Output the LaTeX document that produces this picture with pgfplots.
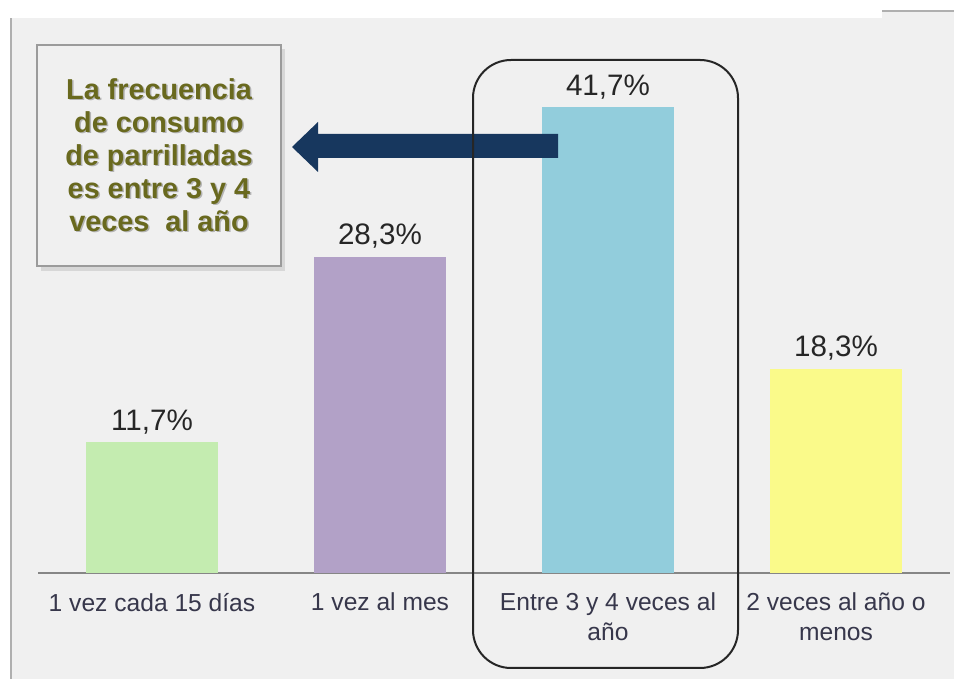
\documentclass[border=0pt]{standalone}
\usepackage{fontspec}
\setmainfont{Liberation Sans}
\usepackage{pgfplots}
\pgfplotsset{compat=1.18}

\definecolor{bg}{RGB}{240,240,240}
\definecolor{barA}{RGB}{196,236,176}
\definecolor{barB}{RGB}{178,161,199}
\definecolor{barC}{RGB}{146,205,220}
\definecolor{barD}{RGB}{250,250,138}
\definecolor{navy}{RGB}{23,55,94}
\definecolor{olivetxt}{RGB}{105,105,30}
\definecolor{axisgray}{RGB}{134,134,134}
\definecolor{boxgray}{RGB}{155,155,155}
\definecolor{lbl}{RGB}{55,55,75}

\begin{document}
\begin{tikzpicture}[x=0.5pt,y=0.5pt]
\useasboundingbox (0,0) rectangle (954,679);
\fill[white] (0,0) rectangle (954,679);
\fill[bg] (11,0) rectangle (954,661);
\fill[bg] (882,661) rectangle (954,668);
\draw[boxgray!80, line width=0.7pt] (11,0) -- (11,661);
\draw[boxgray!80, line width=0.7pt] (882,668) -- (954,668);

\begin{axis}[
    at={(19pt,53pt)}, anchor=south west,
    scale only axis,
    width=456pt, height=268pt,
    xmin=-0.5, xmax=3.5,
    ymin=0, ymax=48,
    ybar,
    bar width=66pt,
    axis x line=bottom,
    axis y line=none,
    x axis line style={-, draw=axisgray, line width=0.75pt},
    major tick length=0pt,
    xtick={0,1,2,3},
    xticklabels={
      {1 vez cada 15 días},
      {1 vez al mes},
      {Entre 3 y 4 veces al\\año},
      {2 veces al año o\\menos}
    },
    xticklabel style={align=center, text=lbl,
      font=\fontsize{12.3}{15}\selectfont, yshift=-6.5pt},
    nodes near coords={\pgfmathprintnumber[fixed,fixed zerofill,precision=1,use comma,assume math mode=true]{\pgfplotspointmeta}\%},
    nodes near coords style={anchor=base, yshift=6pt, text=black!85,
      font=\fontsize{14.8}{17}\selectfont},
    clip=false,
]
\addplot[fill=barA, draw=none, bar shift=0pt] coordinates {(0,11.7)};
\addplot[fill=barB, draw=none, bar shift=0pt] coordinates {(1,28.3)};
\addplot[fill=barC, draw=none, bar shift=0pt] coordinates {(2,41.7)};
\addplot[fill=barD, draw=none, bar shift=0pt] coordinates {(3,18.3)};
\end{axis}

% callout box
\fill[black, opacity=0.10] (41,408) rectangle (285,630);
\draw[fill=bg, draw=boxgray, line width=0.8pt] (37,413) rectangle (281,634);
\node[align=center, text=black, opacity=0.25,
  font=\bfseries\fontsize{14.4}{16.5}\selectfont] at (160.5,522.5)
  {La frecuencia\\de consumo\\de parrilladas\\es entre 3 y 4\\veces\ \ al año};
\node[align=center, text=olivetxt,
  font=\bfseries\fontsize{14.4}{16.5}\selectfont] at (159,524)
  {La frecuencia\\de consumo\\de parrilladas\\es entre 3 y 4\\veces\ \ al año};

% arrow
\fill[navy] (558,545) -- (318,545) -- (318,557) -- (292,532)
  -- (318,507) -- (318,521) -- (558,521) -- cycle;

% highlight frame
\draw[black!85, line width=1pt, rounded corners=19pt] (473,11) rectangle (738,619);
\end{tikzpicture}
\end{document}
